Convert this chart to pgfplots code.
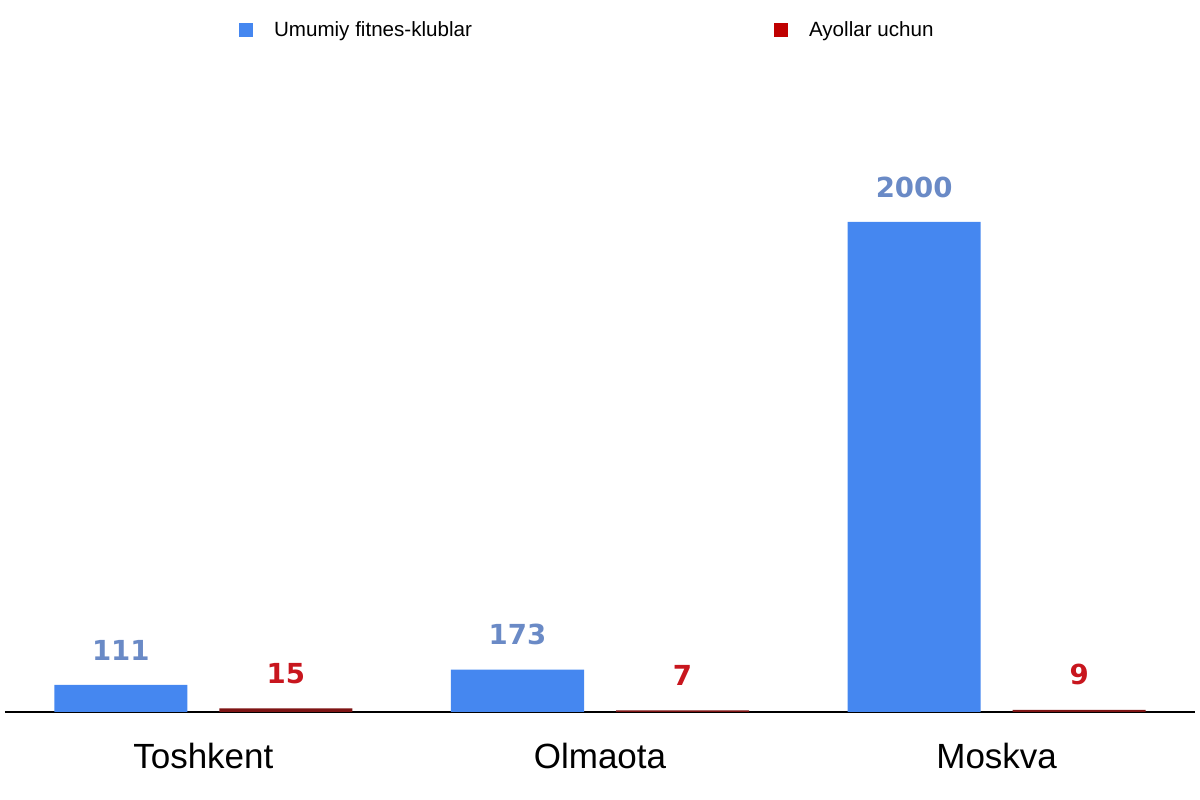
\documentclass[border=0pt]{standalone}
\usepackage{pgfplots}
\pgfplotsset{compat=1.18}
\usepackage{fontspec}
\setmainfont{Liberation Sans}
\newfontfamily\valfont{DejaVu Sans}
\definecolor{barblue}{HTML}{4587F0}
\definecolor{lblblue}{HTML}{6A8AC6}
\definecolor{legred}{HTML}{C00000}
\definecolor{barred}{HTML}{7E1414}
\definecolor{lblred}{HTML}{C8161E}
\begin{document}
\begin{tikzpicture}
\begin{axis}[
  scale only axis,
  width=595pt, height=306.25pt,
  xmin=-0.5, xmax=2.5, ymin=0, ymax=2500,
  hide y axis,
  axis x line*=bottom,
  x axis line style={-, line width=1.3pt, black},
  xtick={0,1,2},
  xticklabels={Toshkent,Olmaota,Moskva},
  major tick length=0pt,
  xticklabel style={font=\fontsize{17.5}{20}\selectfont, inner sep=0pt, anchor=north, yshift=-15.5pt},
  ybar, bar width=66.5pt,
  clip=false,
  legend columns=2,
  legend image code/.code={\fill[#1] (0pt,-3.5pt) rectangle (7pt,3.5pt);},
  legend style={draw=none, fill=none, at={(axis description cs:0.1933,1)}, anchor=west, xshift=2pt, yshift=34.5pt,
    inner sep=0pt, outer sep=0pt, font=\fontsize{10.3}{12}\selectfont,
    nodes={inner sep=0pt}, column sep=10.5pt,
    /tikz/every even column/.append style={column sep=151pt}},
  legend cell align=left,
]
\addlegendimage{fill=barblue, draw=none}
\addlegendentry{Umumiy fitnes-klublar}
\addlegendimage{fill=legred, draw=none}
\addlegendentry{Ayollar uchun}
\addplot[fill=barblue, draw=none, bar shift=-41.25pt, forget plot,
  nodes near coords={\valfont\bfseries\pgfmathprintnumber[assume math mode=true,1000 sep={},fixed,precision=0]{\pgfplotspointmeta}},
  nodes near coords style={anchor=south, inner sep=0pt, yshift=12pt, text=lblblue, font=\fontsize{13.8}{16}\selectfont}]
  coordinates {(0,111) (1,173) (2,2000)};
\addplot[fill=barred, draw=none, bar shift=41.25pt, forget plot,
  nodes near coords={\valfont\bfseries\pgfmathprintnumber[assume math mode=true,1000 sep={},fixed,precision=0]{\pgfplotspointmeta}},
  nodes near coords style={anchor=south, inner sep=0pt, yshift=12pt, text=lblred, font=\fontsize{13.8}{16}\selectfont}]
  coordinates {(0,15) (1,7) (2,9)};
\coordinate (bl) at (rel axis cs:0,0);
\coordinate (tr) at (rel axis cs:1,1);
\end{axis}
\pgfresetboundingbox
\path ([shift={(-2.5pt,-44pt)}]bl) rectangle ([shift={(2.5pt,49.75pt)}]tr);
\end{tikzpicture}
\end{document}
